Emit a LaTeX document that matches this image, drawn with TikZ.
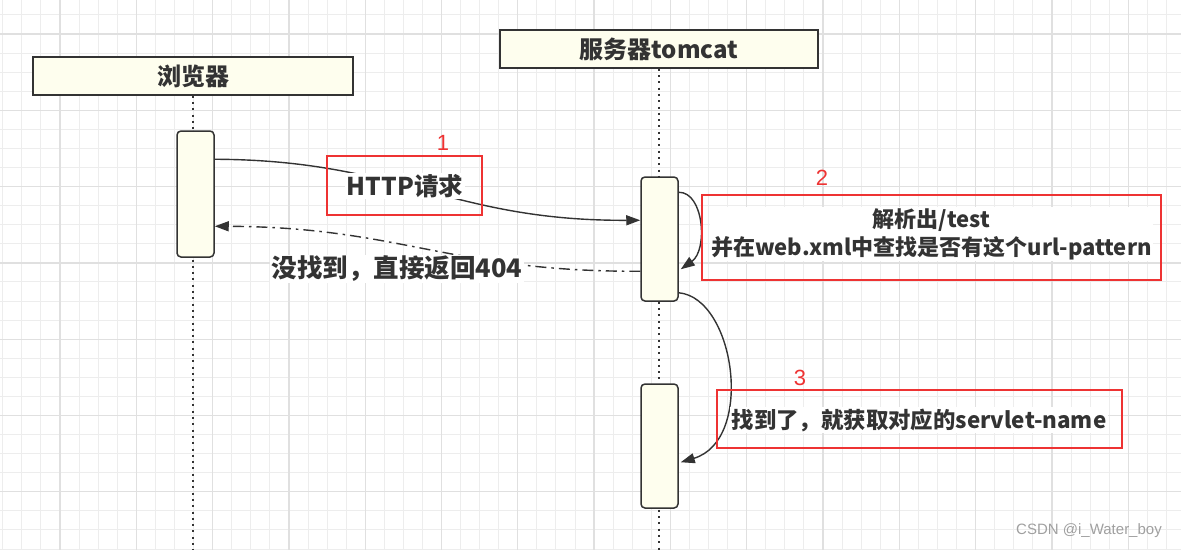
\documentclass[tikz,border=0pt]{standalone}
\usepackage{fontspec}
\setmainfont{Noto Sans CJK SC}
\newfontfamily\numfont{Liberation Sans}
\usetikzlibrary{arrows.meta}
\definecolor{ink}{HTML}{333333}
\definecolor{ivory}{HTML}{FEFEEE}
\definecolor{redline}{HTML}{EE3333}
\definecolor{gridminor}{HTML}{EDEDED}
\definecolor{gridmajor}{HTML}{E0E0E0}
\definecolor{wm}{HTML}{A0A0A0}
\tikzset{
  header/.style={draw=ink, fill=ivory, line width=1.5pt, minimum width=320pt, minimum height=38pt, inner sep=0pt, font=\fontsize{24}{28}\selectfont\bfseries, text=ink},
  actbox/.style={draw=ink, fill=ivory, line width=1.5pt, rounded corners=4pt, minimum width=37pt, inner sep=0pt},
  lifeline/.style={ink, line width=2pt, dash pattern=on 2pt off 4.3pt},
  msg/.style={ink, line width=1.4pt, -{Triangle[length=14pt,width=10pt]}},
  retmsg/.style={msg, dash pattern=on 11pt off 5pt on 2.5pt off 5pt},
  lab/.style={fill=white, inner sep=1.5pt, text=ink, font=\fontsize{22}{28}\selectfont\bfseries},
  redbox/.style={draw=redline, line width=2.6pt, inner sep=0pt},
  num/.style={text=redline, font=\numfont\fontsize{22}{26}\selectfont, inner sep=0pt}
}
\begin{document}
\begin{tikzpicture}[x=1pt,y=-1pt]
\useasboundingbox (0,0) rectangle (1181,550);
\fill[white] (0,0) rectangle (1181,550);
% grid
\foreach \i in {0,...,61} \draw[gridminor,line width=1pt] ({2.8+19.075*\i},0) -- ++(0,550);
\foreach \j in {0,...,28} \draw[gridminor,line width=1pt] (0,{14.9+19.075*\j}) -- ++(1181,0);
\foreach \i in {0,...,15} \draw[gridmajor,line width=1.3pt] ({-16.3+76.3*\i},0) -- ++(0,550);
\foreach \j in {0,...,7} \draw[gridmajor,line width=1.3pt] (0,{34+76.3*\j}) -- ++(1181,0);

% headers
\node[header] (browser) at (193,76) {浏览器};
\node[header, minimum width=318pt] (server) at (659,49) {服务器tomcat};
\coordinate (bend) at (193,550);
\coordinate (send) at (659,550);
\draw[lifeline] (browser.south) -- (bend);
\draw[lifeline] (server.south) -- (send);

% activations
\node[actbox, minimum height=126pt] (ba) at (195.5,194) {};
\node[actbox, minimum height=124pt] (sa1) at (659.5,239) {};
\node[actbox, minimum height=124pt] (sa2) at (659.5,446) {};

% messages
\draw[msg] ([yshift=-29pt]ba.north east) .. controls (400,160) and (450,221) .. ([yshift=-44pt]sa1.north west);
\draw[retmsg] ([yshift=-95pt]sa1.north west) .. controls (450,272) and (400,227) .. ([yshift=-96pt]ba.north east);
\draw[msg] ([yshift=-16pt]sa1.north east) .. controls (704,192) and (708,250) .. ([yshift=-93pt,xshift=2pt]sa1.north east);
\draw[msg] ([yshift=9pt]sa1.south east) .. controls (735,298) and (755,440) .. ([yshift=-79pt,xshift=2pt]sa2.north east);

% labels
\node[lab, font=\fontsize{24.5}{28}\selectfont\bfseries] (l1) at (405,186) {HTTP请求};
\node[redbox, minimum width=155pt, minimum height=59pt] (r1) at (404.5,185.5) {};
\node[num] (n1) at (443,143) {1};

\node[lab, font=\fontsize{25.5}{28}\selectfont\bfseries] (l4) at (397,269) {没找到，直接返回404};

\node[lab, align=center] (l2) at (931.5,234) {解析出/test\\并在web.xml中查找是否有这个url-pattern};
\node[redbox, minimum width=459pt, minimum height=85pt] (r2) at (931.5,237.5) {};
\node[num] (n2) at (822,178) {2};

\node[lab, font=\fontsize{22.4}{28}\selectfont\bfseries] (l3) at (919,420) {找到了，就获取对应的servlet-name};
\node[redbox, minimum width=405pt, minimum height=58pt] (r3) at (919.5,419) {};
\node[num] (n3) at (800,378) {3};

\node[text=wm, font=\numfont\fontsize{15}{18}\selectfont, inner sep=0pt] (wmk) at (1089,531) {CSDN @i\_Water\_boy};
\end{tikzpicture}
\end{document}
